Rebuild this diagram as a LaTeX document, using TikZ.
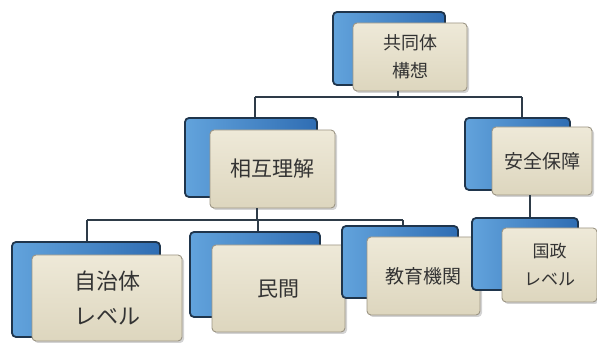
\documentclass[tikz,border=0pt]{standalone}
\usepackage{fontspec}
\newfontfamily\jp{Noto Sans CJK JP}
\usetikzlibrary{shadows}
\definecolor{navy}{HTML}{1F354C}
\definecolor{bluemid}{HTML}{2F6DB3}
\definecolor{bluelight}{HTML}{62A3DC}
\definecolor{beige}{HTML}{EEE9D8}
\definecolor{beigedark}{HTML}{DDD6BE}
\definecolor{edge}{HTML}{9C9584}
\definecolor{wire}{HTML}{2E3B48}
\definecolor{ink}{HTML}{333333}
\tikzset{
  backbox/.style={draw=navy, line width=1.8pt, rounded corners=4pt,
    left color=bluelight, right color=bluemid, inner sep=0pt},
  frontbox/.style={draw=edge, line width=0.9pt, rounded corners=4pt,
    top color=beige, bottom color=beigedark, inner sep=0pt,
    drop shadow={opacity=0.35, shadow xshift=2pt, shadow yshift=-2pt},
    text=ink, align=center},
  fs/.style={font=\jp\fontsize{#1}{#1*1.5}\selectfont},
  wireline/.style={draw=wire, line width=1.4pt},
}
\begin{document}
\begin{tikzpicture}[x=1pt,y=-1pt]
\useasboundingbox (0,0) rectangle (597,344);
% top
\node[backbox, minimum width=112pt, minimum height=73pt] (topb) at (389,48.5) {};
\node[frontbox, minimum width=114pt, minimum height=68pt, font=\jp\fontsize{18}{28}\selectfont] (top) at (410,57) {共同体\\構想};
% level 2
\node[backbox, minimum width=132pt, minimum height=79pt] (sogob) at (251,157.5) {};
\node[frontbox, minimum width=125pt, minimum height=78pt, font=\jp\fontsize{21}{28}\selectfont] (sogo) at (272.5,169) {相互理解};
\node[backbox, minimum width=105pt, minimum height=72pt] (anzenb) at (517.5,154) {};
\node[frontbox, minimum width=100pt, minimum height=68pt, font=\jp\fontsize{19}{28}\selectfont] (anzen) at (542,161) {安全保障};
% level 3
\node[backbox, minimum width=148pt, minimum height=95pt] (jichib) at (86,289.5) {};
\node[frontbox, minimum width=150pt, minimum height=86pt, font=\jp\fontsize{22}{35}\selectfont] (jichi) at (107,298) {自治体\\レベル};
\node[backbox, minimum width=130pt, minimum height=85pt] (minkanb) at (255,274.5) {};
\node[frontbox, minimum width=133pt, minimum height=87pt, font=\jp\fontsize{21}{28}\selectfont] (minkan) at (278.5,288.5) {民間};
\node[backbox, minimum width=116pt, minimum height=72pt] (kyoikub) at (400,262) {};
\node[frontbox, minimum width=113pt, minimum height=78pt, font=\jp\fontsize{19}{28}\selectfont] (kyoiku) at (423.5,276) {教育機関};
\node[backbox, minimum width=106pt, minimum height=72pt] (kokuseib) at (525,254) {};
\node[frontbox, minimum width=95pt, minimum height=74pt, font=\jp\fontsize{17}{28}\selectfont] (kokusei) at (549.5,265) {国政\\レベル};
% junctions
\coordinate (j0) at (398,97);
\coordinate (j1) at (255,97);
\coordinate (j2) at (522,97);
\coordinate (k0) at (257,220);
\coordinate (k1) at (87,220);
\coordinate (k2) at (258,220);
\coordinate (k3) at (403,220);
\coordinate (m0) at (530,0);
% connectors
\draw[wireline] (top.south -| j0) -- (j0);
\draw[wireline] (j1) -- (j2);
\draw[wireline] (j1) -- (sogob.north -| j1);
\draw[wireline] (j2) -- (anzenb.north -| j2);
\draw[wireline] (sogo.south -| k0) -- (k0);
\draw[wireline] (k1) -- (k3);
\draw[wireline] (k1) -- (jichib.north -| k1);
\draw[wireline] (k2) -- (minkanb.north -| k2);
\draw[wireline] (k3) -- (kyoikub.north -| k3);
\draw[wireline] (anzen.south -| m0) -- (kokuseib.north -| m0);
\end{tikzpicture}
\end{document}
